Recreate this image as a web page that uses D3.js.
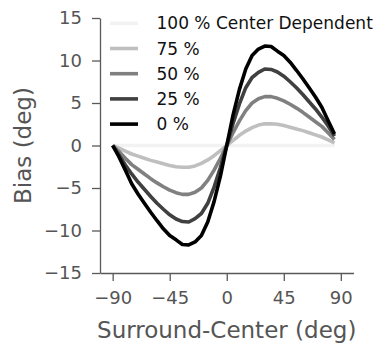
<!DOCTYPE html>
<html>
<head>
<meta charset="utf-8">
<script src="https://cdn.jsdelivr.net/npm/d3@7"></script>
<style>
  html, body { margin: 0; padding: 0; background: #fff; }
  svg { display: block; }
  text { font-family: "DejaVu Sans", sans-serif; }
</style>
</head>
<body>
<svg id="chart" width="375" height="347"></svg>
<script>
// Surround-minus-center orientation (deg), sampled every 5 deg
const angles = d3.range(-90, 90, 5);

// Bias (deg) per surround-center difference, one array per center-dependence level
const bias100 = angles.map(() => 0);
const bias75 = [0, -0.3, -0.65, -1.0, -1.25, -1.5, -1.75, -1.95, -2.15, -2.35, -2.5, -2.55,
  -2.55, -2.4, -2.1, -1.7, -1.2, -0.6, 0, 0.6, 1.2, 1.7, 2.1, 2.4,
  2.55, 2.55, 2.5, 2.35, 2.15, 1.95, 1.75, 1.5, 1.25, 1.0, 0.65, 0.3];
const bias50 = [0, -0.7, -1.5, -2.25, -2.8, -3.35, -3.9, -4.4, -4.85, -5.25, -5.55, -5.75,
  -5.75, -5.5, -5.0, -4.1, -2.9, -1.5, 0, 1.5, 2.9, 4.1, 5.0, 5.5,
  5.75, 5.75, 5.55, 5.25, 4.85, 4.4, 3.9, 3.35, 2.8, 2.25, 1.5, 0.7];
const bias25 = [0, -1.1, -2.3, -3.35, -4.3, -5.15, -6.0, -6.8, -7.5, -8.15, -8.65, -8.95,
  -9.0, -8.6, -8.0, -6.8, -4.9, -2.6, 0, 2.6, 4.9, 6.8, 8.0, 8.6,
  9.0, 8.95, 8.65, 8.15, 7.5, 6.8, 6.0, 5.15, 4.3, 3.35, 2.3, 1.1];
const bias0 = [0, -1.35, -2.9, -4.5, -5.7, -6.8, -7.85, -8.85, -9.8, -10.6, -11.1, -11.65,
  -11.7, -11.35, -10.6, -9.0, -6.6, -3.6, 0, 3.6, 6.6, 9.0, 10.6, 11.35,
  11.7, 11.65, 11.1, 10.6, 9.8, 8.85, 7.85, 6.8, 5.7, 4.5, 2.9, 1.35];

const seriesLabels = ["100 % Center Dependent", "75 %", "50 %", "25 %", "0 %"];
const seriesColors = ["#f2f2f2", "#bfbfbf", "#808080", "#404040", "#000000"];
const seriesValues = [bias100, bias75, bias50, bias25, bias0];

const xTicks = [-90, -45, 0, 45, 90];
const yTicks = [-15, -10, -5, 0, 5, 10, 15];

const svg = d3.select("#chart");
const axisColor = "#595959";
const textColor = "#555555";

const x = d3.scaleLinear().domain([-100, 100]).range([100, 353.5]);
const y = d3.scaleLinear().domain([-15, 15]).range([273, 18]);

// Axes
const yAxis = svg.append("g")
  .attr("transform", "translate(100,0)")
  .call(d3.axisLeft(y).tickValues(yTicks).tickSize(8).tickSizeOuter(0).tickPadding(10));
const xAxis = svg.append("g")
  .attr("transform", "translate(0,273)")
  .call(d3.axisBottom(x).tickValues(xTicks).tickSize(8).tickSizeOuter(0).tickPadding(10));

[xAxis, yAxis].forEach(g => {
  g.select(".domain").attr("stroke", axisColor).attr("stroke-width", 1.3);
  g.selectAll(".tick line").attr("stroke", axisColor).attr("stroke-width", 1.3);
  g.selectAll(".tick text")
    .attr("fill", textColor)
    .style("font-family", "'DejaVu Sans', sans-serif")
    .style("font-size", "18px");
});

// Axis titles
svg.append("text")
  .attr("x", 226.7).attr("y", 337.5)
  .attr("text-anchor", "middle")
  .attr("fill", textColor)
  .style("font-size", "23px")
  .text("Surround-Center (deg)");
svg.append("text")
  .attr("transform", "translate(30.5,145.5) rotate(-90)")
  .attr("text-anchor", "middle")
  .attr("fill", textColor)
  .style("font-size", "23px")
  .text("Bias (deg)");

// Curves
const line = d3.line()
  .x((d, i) => x(angles[i]))
  .y(d => y(d));

svg.append("g").selectAll("path")
  .data(seriesValues)
  .join("path")
  .attr("d", line)
  .attr("fill", "none")
  .attr("stroke", (d, i) => seriesColors[i])
  .attr("stroke-width", 3.6)
  .attr("stroke-linejoin", "round");

// Legend
const legend = svg.append("g");
const rowY = i => 23.3 + i * 25.2;
legend.selectAll("line")
  .data(seriesLabels)
  .join("line")
  .attr("x1", 110).attr("x2", 138)
  .attr("y1", (d, i) => rowY(i)).attr("y2", (d, i) => rowY(i))
  .attr("stroke", (d, i) => seriesColors[i])
  .attr("stroke-width", 3.6);
legend.selectAll("text")
  .data(seriesLabels)
  .join("text")
  .attr("x", 156.5)
  .attr("y", (d, i) => rowY(i))
  .attr("dy", "0.36em")
  .attr("fill", "#111")
  .style("font-size", "17px")
  .text(d => d);
</script>
</body>
</html>
